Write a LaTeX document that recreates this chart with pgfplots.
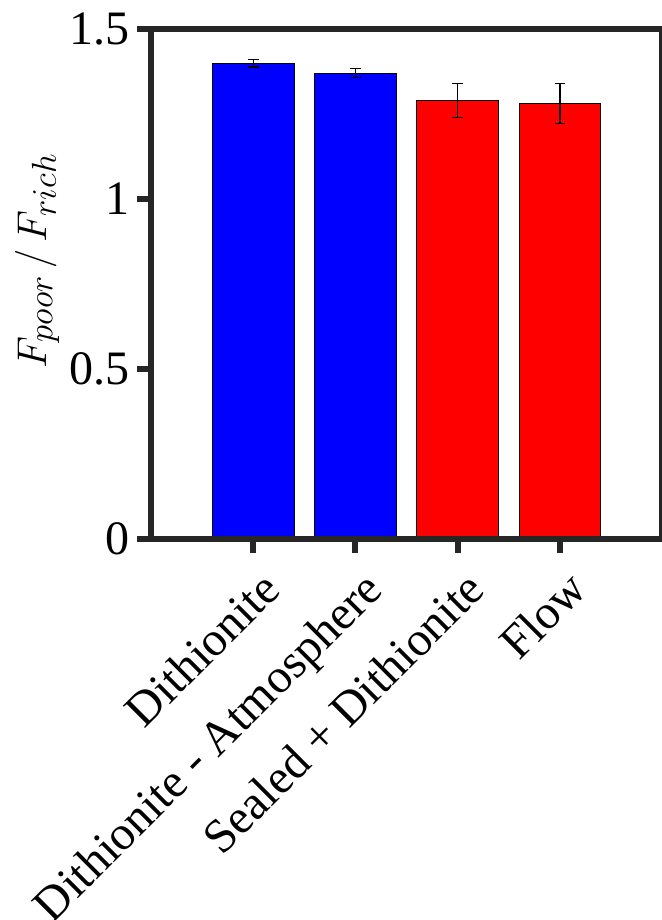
\documentclass[border=0pt]{standalone}
\usepackage{fontspec}
\setmainfont{Liberation Serif}
\usepackage{pgfplots}
\pgfplotsset{compat=1.18}
\DeclareMathSizes{20}{20}{16}{12}
\definecolor{axisgray}{RGB}{38,38,38}

\begin{document}
\begin{tikzpicture}
\begin{axis}[
  scale only axis,
  width=255.5pt, height=255pt,
  xmin=0, xmax=5, ymin=0, ymax=1.5,
  xtick={1,2,3,4},
  xticklabels={Dithionite, Dithionite - Atmosphere, Sealed + Dithionite, Flow},
  ytick={0,0.5,1,1.5},
  xtick pos=bottom, ytick pos=left,
  tick align=outside,
  major tick length=7pt,
  axis on top,
  axis line style={line width=3pt, axisgray, line cap=rect},
  tick style={line width=3pt, axisgray},
  ticklabel style={font=\fontsize{24}{28}\selectfont, text=black},
  /pgf/number format/assume math mode=true,
  xticklabel style={rotate=45, anchor=north east, xshift=0pt, yshift=-4pt},
  ylabel={$F_{poor}\,/\,F_{rich}$},
  ylabel style={font=\fontsize{20}{24}\selectfont, at={(rel axis cs:-0.223,0.545)}, anchor=center},
]
% ferrous-reduced samples
\addplot[ybar, bar width=0.8, bar shift=0pt, fill=blue, draw=black, line width=0.5pt,
  error bars/.cd, y dir=both, y explicit,
  error bar style={line width=0.6pt, black},
  error mark options={rotate=90, mark size=2.7pt, line width=0.6pt, black}]
  coordinates {(1,1.399) +- (0,0.0115) (2,1.370) +- (0,0.014)};
% sealed and flow samples
\addplot[ybar, bar width=0.8, bar shift=0pt, fill=red, draw=black, line width=0.5pt,
  error bars/.cd, y dir=both, y explicit,
  error bar style={line width=0.6pt, black},
  error mark options={rotate=90, mark size=2.7pt, line width=0.6pt, black}]
  coordinates {(3,1.289) +- (0,0.050) (4,1.280) +- (0,0.059)};
\coordinate (bl) at (rel axis cs:0,0);
\coordinate (tr) at (rel axis cs:1,1);
\end{axis}
\pgfresetboundingbox
\path[use as bounding box] ([shift={(-75.5pt,-190.5pt)}]bl) rectangle ([shift={(-0.5pt,14.4pt)}]tr);
\end{tikzpicture}
\end{document}
